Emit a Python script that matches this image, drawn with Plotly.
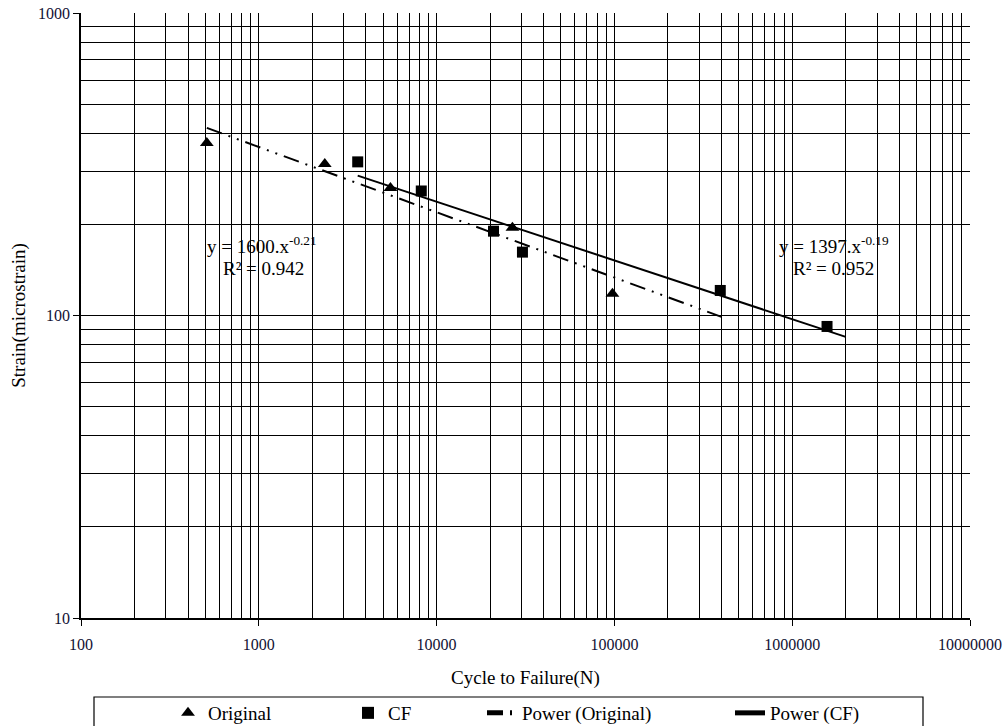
import plotly.graph_objects as go

# ---- data ----
orig_cycles = [510, 2350, 5500, 26700, 97500]
orig_strain = [372, 317, 264, 195, 118]

cf_cycles = [3600, 8200, 20900, 30400, 394000, 1570000]
cf_strain = [322, 258, 190, 162, 121, 92]

# power trendline end points (as drawn)
trend_orig_x = [510, 400000]
trend_orig_y = [417, 99]
trend_cf_x = [3600, 2000000]
trend_cf_y = [290, 85]

x_major = [100, 1000, 10000, 100000, 1000000, 10000000]
x_labels = ["100", "1000", "10000", "100000", "1000000", "10000000"]
y_major = [10, 100, 1000]
y_labels = ["10", "100", "1000"]

x_minor = [m * d for d in [100, 1000, 10000, 100000, 1000000] for m in range(2, 10)]
y_minor = [m * d for d in [10, 100] for m in range(2, 10)]

SERIF = "Liberation Serif, Times New Roman, serif"

L, R, T, B = 81, 970, 13, 618
W, H = 1006, 726
def px(x):
    return (x - L) / (R - L)
def py(y):
    return (B - y) / (B - T)

fig = go.Figure()
fig.add_trace(go.Scatter(x=orig_cycles, y=orig_strain, mode="markers", name="Original", legend="legend",
                         marker=dict(symbol="triangle-up", size=12, color="black")))
fig.add_trace(go.Scatter(x=cf_cycles, y=cf_strain, mode="markers", name="CF", legend="legend2",
                         marker=dict(symbol="square", size=11, color="black")))
fig.add_trace(go.Scatter(x=trend_orig_x, y=trend_orig_y, mode="lines", name="Power (Original)",
                         legend="legend3",
                         line=dict(color="black", width=2, dash="16px,7px,2px,7px,2px,7px")))
fig.add_trace(go.Scatter(x=trend_cf_x, y=trend_cf_y, mode="lines", name="Power (CF)", legend="legend4",
                         line=dict(color="black", width=2)))

axis_common = dict(
    type="log", showline=True, linecolor="black", linewidth=1.5, mirror=False,
    showgrid=True, gridcolor="black", gridwidth=1,
    ticks="outside", ticklen=6, tickcolor="black",
    tickfont=dict(family=SERIF, size=16, color="#111133"),
    zeroline=False, automargin=False,
)

fig.update_xaxes(**axis_common, range=[2, 7], tickmode="array", tickvals=x_major, ticktext=x_labels,
                 ticklabelstandoff=5,
                 minor=dict(tickmode="array", tickvals=x_minor, showgrid=True, gridcolor="black",
                            gridwidth=1, ticks=""),
                 title=dict(text="Cycle to Failure(N)", font=dict(family=SERIF, size=19, color="black"),
                            standoff=19))
fig.update_yaxes(**axis_common, range=[1, 3], tickmode="array", tickvals=y_major, ticktext=y_labels,
                 minor=dict(tickmode="array", tickvals=y_minor, showgrid=True, gridcolor="black",
                            gridwidth=1, ticks=""),
                 title=dict(text="Strain(microstrain)", font=dict(family=SERIF, size=19, color="black"),
                            standoff=7))

ann_font = dict(family=SERIF, size=19, color="black")
annotations = [
    dict(text="y = 1600.x<sup>-0.21</sup>", x=px(262), y=py(245)),
    dict(text="R² = 0.942", x=px(263), y=py(268)),
    dict(text="y = 1397.x<sup>-0.19</sup>", x=px(834), y=py(245)),
    dict(text="R² = 0.952", x=px(833), y=py(268)),
]
for a in annotations:
    a.update(xref="paper", yref="paper", showarrow=False, font=ann_font,
             xanchor="center", yanchor="middle", bgcolor="rgba(255,255,255,0)")

def leg(xpix):
    return dict(orientation="h", x=px(xpix), xanchor="left", y=py(694), yanchor="top",
                bgcolor="rgba(0,0,0,0)", borderwidth=0,
                font=dict(family=SERIF, size=19, color="black"), itemsizing="constant")

fig.update_layout(
    width=W, height=H,
    margin=dict(l=L, r=W - R, t=T, b=H - B, autoexpand=False),
    paper_bgcolor="white", plot_bgcolor="white",
    font=dict(family=SERIF, size=19, color="black"),
    annotations=annotations,
    shapes=[dict(type="rect", xref="paper", yref="paper",
                 x0=px(94), x1=px(923), y0=py(697), y1=py(760),
                 line=dict(color="black", width=1.2), fillcolor="rgba(0,0,0,0)")],
    showlegend=True,
    legend=leg(168),
    legend2=leg(348),
    legend3=leg(482),
    legend4=leg(730),
)

fig.write_html("out.html", config={"displayModeBar": False},
               post_script="document.body.style.margin='0';document.body.style.overflow='hidden';")
